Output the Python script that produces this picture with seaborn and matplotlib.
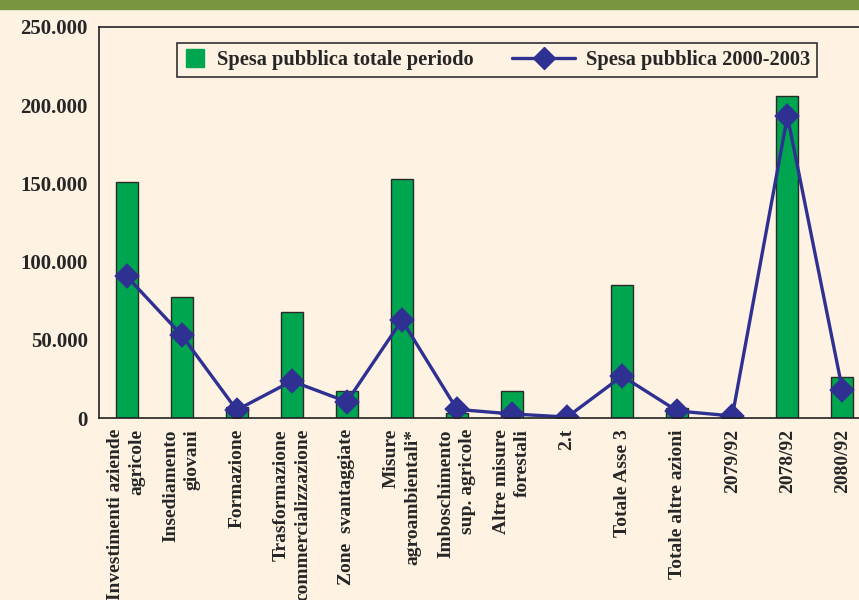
import matplotlib
matplotlib.use('Agg')
import matplotlib.pyplot as plt
import seaborn as sns
import numpy as np
import pandas as pd
from matplotlib.patches import Rectangle
from matplotlib.lines import Line2D
from matplotlib.legend_handler import HandlerLine2D
from matplotlib.ticker import FuncFormatter, FixedLocator

# Data
categories = [
    "Investimenti aziende\nagricole", "Insediamento\ngiovani", "Formazione",
    "Trasformazione\ncommercializzazione", "Zone  svantaggiate",
    "Misure\nagroambientali*", "Imboschimento\nsup. agricole",
    "Altre misure\nforestali", "2.t", "Totale Asse 3", "Totale altre azioni",
    "2079/92", "2078/92", "2080/92",
]
spesa_totale = [150700, 77300, 6800, 67700, 17000, 152800, 3000,
                17200, 600, 85100, 6200, 800, 205800, 26200]
spesa_2000_2003 = [90700, 53000, 5100, 23600, 10400, 62600, 5500,
                   2600, 600, 26800, 4500, 1300, 193000, 17900]
y_ticks = [0, 50000, 100000, 150000, 200000, 250000]

bg = '#FEF2E2'
green = '#00A550'
blue = '#2E3192'
band = '#7A9540'


# legend handle whose line reaches further left than the handle box
class LongLineHandler(HandlerLine2D):
    def get_xdata(self, legend, xdescent, ydescent, width, height, fontsize):
        xdata = np.array([-xdescent - 2.0 * fontsize, -xdescent + width])
        return xdata, np.array([xdata.mean()])


sns.set_style('white')
plt.rcParams['font.family'] = ['Liberation Serif', 'DejaVu Serif']
plt.rcParams['font.weight'] = 'bold'

df = pd.DataFrame({'cat': categories, 'tot': spesa_totale, 'p': spesa_2000_2003})

fig = plt.figure(figsize=(8.59, 6.0), dpi=100, facecolor=bg)
ax = fig.add_axes([99 / 859, 182 / 600, 1 - 99 / 859, 391 / 600])
ax.set_facecolor(bg)

sns.barplot(data=df, x='cat', y='tot', color=green, width=0.4,
            edgecolor='#2a2a2a', linewidth=1.0, saturation=1, ax=ax)
sns.pointplot(data=df, x='cat', y='p', color=blue, markers='D',
              markersize=11, linewidth=2.4, ax=ax)

ax.set_xlim(-0.5, 13.3)
ax.set_ylim(0, 250000)
ax.set_xlabel('')
ax.set_ylabel('')

ax.yaxis.set_major_locator(FixedLocator(y_ticks))
ax.yaxis.set_major_formatter(FuncFormatter(
    lambda v, p: f"{int(v):,}".replace(',', '.')))
ax.tick_params(axis='y', direction='out', length=6, width=1.2,
               color='#333333', labelsize=15, pad=2)

ax.set_xticks(range(len(categories)))
ax.set_xticklabels(categories, rotation=90, ha='center', va='top',
                   multialignment='right', linespacing=1.35)
ax.tick_params(axis='x', which='major', length=0, labelsize=14, pad=8)
ax.set_xticks(np.arange(len(categories)) - 0.5, minor=True)
ax.tick_params(axis='x', which='minor', direction='inout', length=12,
               width=1.0, color='#555555')

for s in ['left', 'bottom', 'top']:
    ax.spines[s].set_visible(True)
    ax.spines[s].set_color('#222222')
    ax.spines[s].set_linewidth(1.2)
ax.spines['right'].set_visible(False)

sq = Line2D([], [], marker='s', linestyle='none', color=green, markersize=13)
ln = Line2D([], [], marker='D', color=blue, linewidth=2.4, markersize=11)
labels = ['Spesa pubblica totale periodo', 'Spesa pubblica 2000-2003']
leg = ax.legend([sq, ln], labels, loc='lower left', ncol=2, mode='expand',
                bbox_to_anchor=(0.1026, 0.872, 0.842, 0.087),
                frameon=True, fancybox=False, facecolor=bg, framealpha=1,
                edgecolor='#333333', fontsize=14.7, handlelength=1.1,
                handletextpad=0.5, borderaxespad=0, borderpad=0.35,
                handler_map={ln: LongLineHandler()})
leg.get_frame().set_linewidth(1.2)

fig.patches.append(Rectangle((0, 1 - 8.5 / 600), 1, 8.5 / 600,
                             transform=fig.transFigure, color=band,
                             zorder=10))

fig.savefig('out.png', dpi=100, facecolor=bg)
